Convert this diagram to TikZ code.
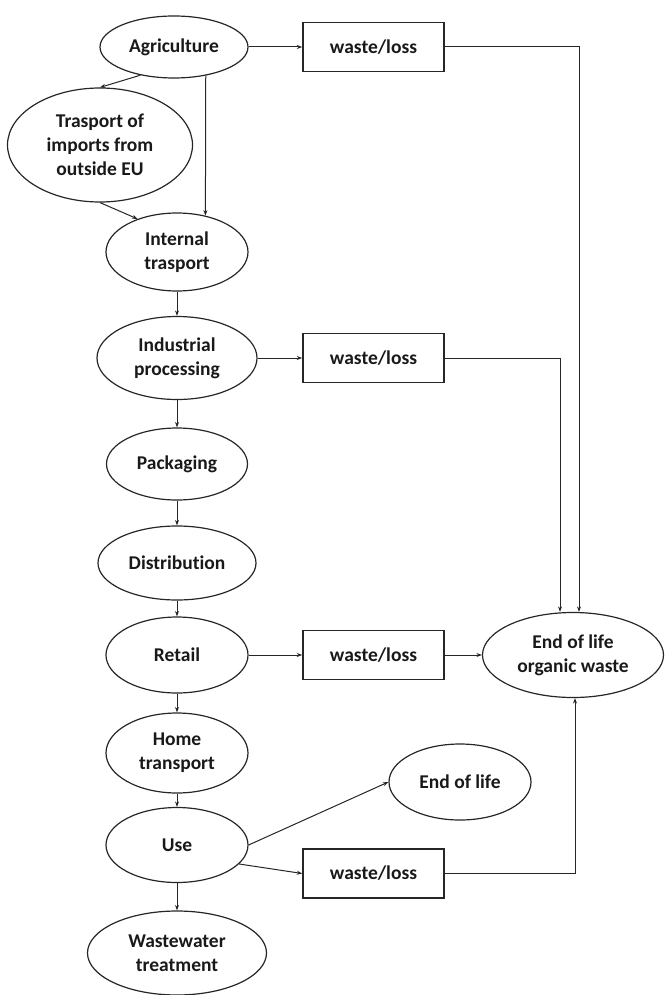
\documentclass[tikz,border=0pt]{standalone}
\usepackage{fontspec}
\setmainfont{Carlito}[Ligatures=CommonOff]
\usetikzlibrary{shapes.geometric, arrows.meta}

\begin{document}
\begin{tikzpicture}[x=1pt, y=-1pt, >={Stealth[length=5.5pt, width=4pt]},
		stage/.style={ellipse, draw=black!85, line width=1.2pt, inner sep=0pt, align=center, text=black!90, font=\fontsize{19.5}{24}\selectfont\bfseries},
		loss/.style={rectangle, draw=black!85, line width=1.5pt, minimum width=141pt, minimum height=49pt, inner sep=0pt, text=black!90, font=\fontsize{19.5}{24}\selectfont\bfseries},
		flow/.style={->, line width=1pt, black!85}]
				\useasboundingbox (0,0) rectangle (664,995);
				
				% 1. 生命周期各阶段 (左列椭圆)
				\node[stage, minimum width=148pt, minimum height=62pt] (agri) at (174,47) {Agriculture};
				\node[stage, minimum width=185pt, minimum height=114pt] (import) at (100,145) {Trasport of\\imports from\\outside EU};
				\node[stage, minimum width=142pt, minimum height=78pt] (internal) at (177,252) {Internal\\trasport};
				\node[stage, minimum width=160pt, minimum height=83pt] (industrial) at (177,358) {Industrial\\processing};
				\node[stage, minimum width=141pt, minimum height=72pt] (packaging) at (177,464) {Packaging};
				\node[stage, minimum width=158pt, minimum height=74pt] (distribution) at (177,563) {Distribution};
				\node[stage, minimum width=142pt, minimum height=76pt] (retail) at (177,655) {Retail};
				\node[stage, minimum width=142pt, minimum height=80pt] (home) at (177,753) {Home\\transport};
				\node[stage, minimum width=142pt, minimum height=75pt] (use) at (177,845) {Use};
				\node[stage, minimum width=179pt, minimum height=84pt] (wastewater) at (177,953) {Wastewater\\treatment};
				
				% 2. 废弃/损失方框与末端处理 (右侧)
				\node[loss] (loss1) at (373.5,47) {waste/loss};
				\node[loss] (loss2) at (373.5,358) {waste/loss};
				\node[loss] (loss3) at (373.5,655) {waste/loss};
				\node[loss] (loss4) at (373.5,873.5) {waste/loss};
				\node[stage, minimum width=181pt, minimum height=85pt] (eolorg) at (573,655) {End of life\\organic waste};
				\node[stage, minimum width=142pt, minimum height=76pt] (eol) at (460,782) {End of life};
				
				% 3. 主流程箭头
				\draw[flow] (agri.220) -- (import.north);
				\draw[flow] (agri.318) -- (internal.52);
				\draw[flow] (import.south) -- (internal.140);
				\draw[flow] (internal) -- (industrial);
				\draw[flow] (industrial) -- (packaging);
				\draw[flow] (packaging) -- (distribution);
				\draw[flow] (distribution) -- (retail);
				\draw[flow] (retail) -- (home);
				\draw[flow] (home) -- (use);
				\draw[flow] (use) -- (wastewater);
				
				% 4. 损失流向末端 (折线汇入 organic waste)
				\draw[flow] (agri) -- (loss1);
				\draw[flow] (loss1.east) -| ([xshift=6pt]eolorg.north);
				\draw[flow] (industrial) -- (loss2);
				\draw[flow] (loss2.east) -| ([xshift=-13pt]eolorg.north);
				\draw[flow] (retail) -- (loss3);
				\draw[flow] (loss3) -- (eolorg);
				\draw[flow] (use.343) -- (loss4.west);
				\draw[flow] (loss4.east) -| ([xshift=2pt]eolorg.south);
				\draw[flow] (use.east) -- (eol.west);
			\end{tikzpicture}
\end{document}
